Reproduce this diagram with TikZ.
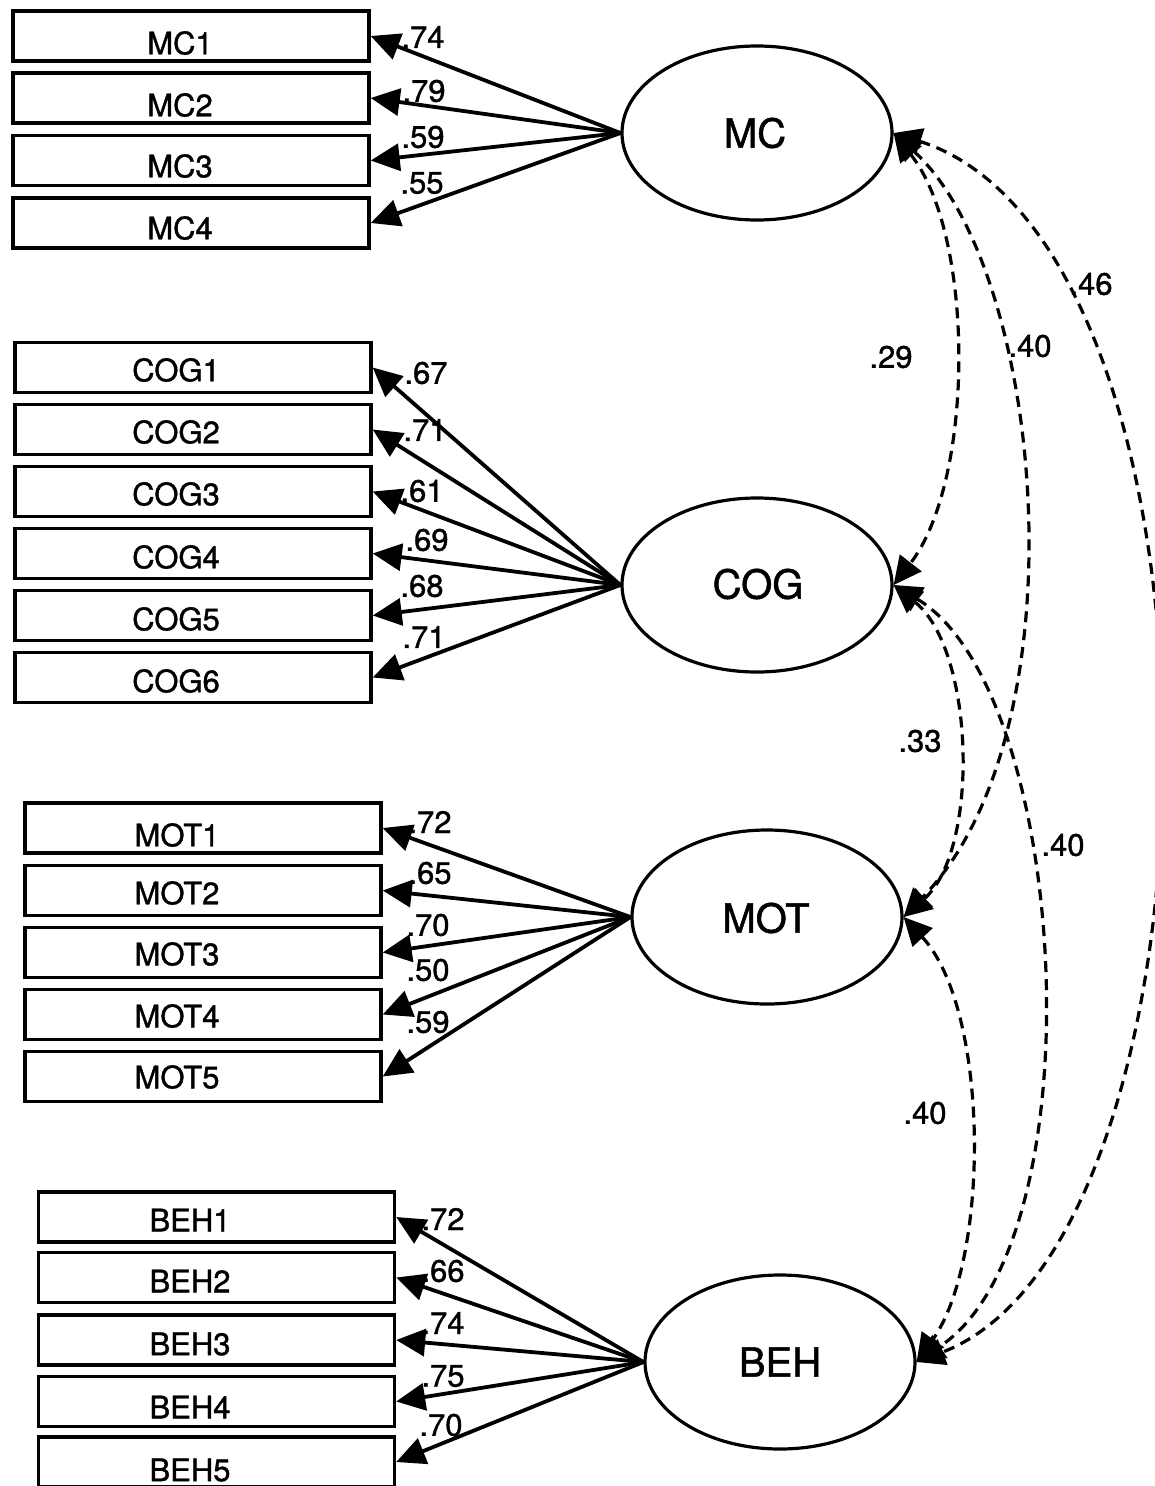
\documentclass[tikz,border=0pt]{standalone}
\usepackage{fontspec}
\setmainfont[FakeBold=1.2]{TeX Gyre Heros}
\usetikzlibrary{arrows.meta,shapes.geometric}
\begin{document}
\begin{tikzpicture}[x=1pt,y=-1pt,
  box/.style={draw, line width=3.4pt, minimum width=356pt, minimum height=50pt, inner sep=0pt},
  lv/.style={draw, ellipse, line width=3.2pt, minimum width=270pt, minimum height=174pt, inner sep=0pt},
  lvtxt/.style={inner sep=0pt, font=\fontsize{40}{48}\selectfont},
  btxt/.style={inner sep=0pt, font=\fontsize{31}{36}\selectfont},
  ltxt/.style={inner sep=0pt, font=\fontsize{31}{36}\selectfont},
  load/.style={line width=3.8pt, -{Triangle[length=29pt,width=27pt]}},
  cov/.style={line width=3.2pt, dash pattern=on 11pt off 7pt,
    {Triangle[length=28pt,width=27pt]}-{Triangle[length=28pt,width=27pt]}}
]
\useasboundingbox (0,0) rectangle (1155,1486);
\fill[white] (0,0) rectangle (1155,1486);
\clip (0,0) rectangle (1155,1486);

% latent variables
\node[lv] (mc)  at (757,133) {};
\node[lv] (cog) at (757,585) {};
\node[lv] (mot) at (767,917) {};
\node[lv] (beh) at (780,1362) {};
\node[lvtxt] (mct)  at (755,133) {MC};
\node[lvtxt] (cogt) at (758,584) {COG};
\node[lvtxt] (mott) at (766,918) {MOT};
\node[lvtxt] (beht) at (780,1362) {BEH};

% MC indicators
\node[box] (mc1) at (191,36) {};
\node[box] (mc2) at (191,98) {};
\node[box] (mc3) at (191,160.5) {};
\node[box] (mc4) at (191,223) {};
\node[btxt] (mc1t) at (180,43) {MC1};
\node[btxt] (mc2t) at (180,105) {MC2};
\node[btxt] (mc3t) at (180,166) {MC3};
\node[btxt] (mc4t) at (180,228) {MC4};

% COG indicators
\node[box] (cog1) at (193,367.5) {};
\node[box] (cog2) at (193,429.5) {};
\node[box] (cog3) at (193,491.5) {};
\node[box] (cog4) at (193,553.5) {};
\node[box] (cog5) at (193,615.5) {};
\node[box] (cog6) at (193,677.5) {};
\node[btxt] (cog1t) at (176,370) {COG1};
\node[btxt] (cog2t) at (176,432) {COG2};
\node[btxt] (cog3t) at (176,494) {COG3};
\node[btxt] (cog4t) at (176,557) {COG4};
\node[btxt] (cog5t) at (176,619) {COG5};
\node[btxt] (cog6t) at (176,681) {COG6};

% MOT indicators
\node[box] (mot1) at (203,828) {};
\node[box] (mot2) at (203,890.5) {};
\node[box] (mot3) at (203,952.5) {};
\node[box] (mot4) at (203,1014.5) {};
\node[box] (mot5) at (203,1076.5) {};
\node[btxt] (mot1t) at (177,835) {MOT1};
\node[btxt] (mot2t) at (177,893) {MOT2};
\node[btxt] (mot3t) at (177,954) {MOT3};
\node[btxt] (mot4t) at (177,1016) {MOT4};
\node[btxt] (mot5t) at (177,1077) {MOT5};

% BEH indicators
\node[box] (beh1) at (216.5,1217) {};
\node[box] (beh2) at (216.5,1277.5) {};
\node[box] (beh3) at (216.5,1340) {};
\node[box] (beh4) at (216.5,1401.5) {};
\node[box] (beh5) at (216.5,1462) {};
\node[btxt] (beh1t) at (190,1220) {BEH1};
\node[btxt] (beh2t) at (190,1281) {BEH2};
\node[btxt] (beh3t) at (190,1344) {BEH3};
\node[btxt] (beh4t) at (190,1407) {BEH4};
\node[btxt] (beh5t) at (190,1470) {BEH5};

% loadings
\foreach \i in {1,...,4} \draw[load] (mc.west) -- (mc\i.east);
\foreach \i in {1,...,6} \draw[load] (cog.west) -- (cog\i.east);
\foreach \i in {1,...,5} \draw[load] (mot.west) -- (mot\i.east);
\foreach \i in {1,...,5} \draw[load] (beh.west) -- (beh\i.east);

% loading labels
\node[ltxt] (lmc1) at (423,37) {.74};
\node[ltxt] (lmc2) at (424,91) {.79};
\node[ltxt] (lmc3) at (423,137) {.59};
\node[ltxt] (lmc4) at (422,183) {.55};
\node[ltxt] (lcog1) at (426,373) {.67};
\node[ltxt] (lcog2) at (425,430) {.71};
\node[ltxt] (lcog3) at (422,491) {.61};
\node[ltxt] (lcog4) at (427,540) {.69};
\node[ltxt] (lcog5) at (422,586) {.68};
\node[ltxt] (lcog6) at (424,637) {.71};
\node[ltxt] (lmot1) at (430,822) {.72};
\node[ltxt] (lmot2) at (430,873) {.65};
\node[ltxt] (lmot3) at (428,925) {.70};
\node[ltxt] (lmot4) at (428,970) {.50};
\node[ltxt] (lmot5) at (428,1022) {.59};
\node[ltxt] (lbeh1) at (443,1219) {.72};
\node[ltxt] (lbeh2) at (443,1271) {.66};
\node[ltxt] (lbeh3) at (443,1323) {.74};
\node[ltxt] (lbeh4) at (443,1376) {.75};
\node[ltxt] (lbeh5) at (441,1425) {.70};

% covariances
\draw[cov] (mc.east) .. controls (975,235) and (975,480) .. (cog.east);
\draw[cov] (mc.east) .. controls (1045,270) and (1085,730) .. (mot.east);
\draw[cov] (mc.east) .. controls (1245,245) and (1236,1240) .. (beh.east);
\draw[cov] (cog.east) .. controls (975,650) and (980,850) .. (mot.east);
\draw[cov] (cog.east) .. controls (1070,690) and (1100,1240) .. (beh.east);
\draw[cov] (mot.east) .. controls (990,1010) and (990,1260) .. (beh.east);

% covariance labels
\node[ltxt] (c29) at (891,357) {.29};
\node[ltxt] (c40a) at (1030,346) {.40};
\node[ltxt] (c46) at (1091,284) {.46};
\node[ltxt] (c33) at (920,741) {.33};
\node[ltxt] (c40b) at (1063,845) {.40};
\node[ltxt] (c40c) at (925,1113) {.40};
\end{tikzpicture}
\end{document}
